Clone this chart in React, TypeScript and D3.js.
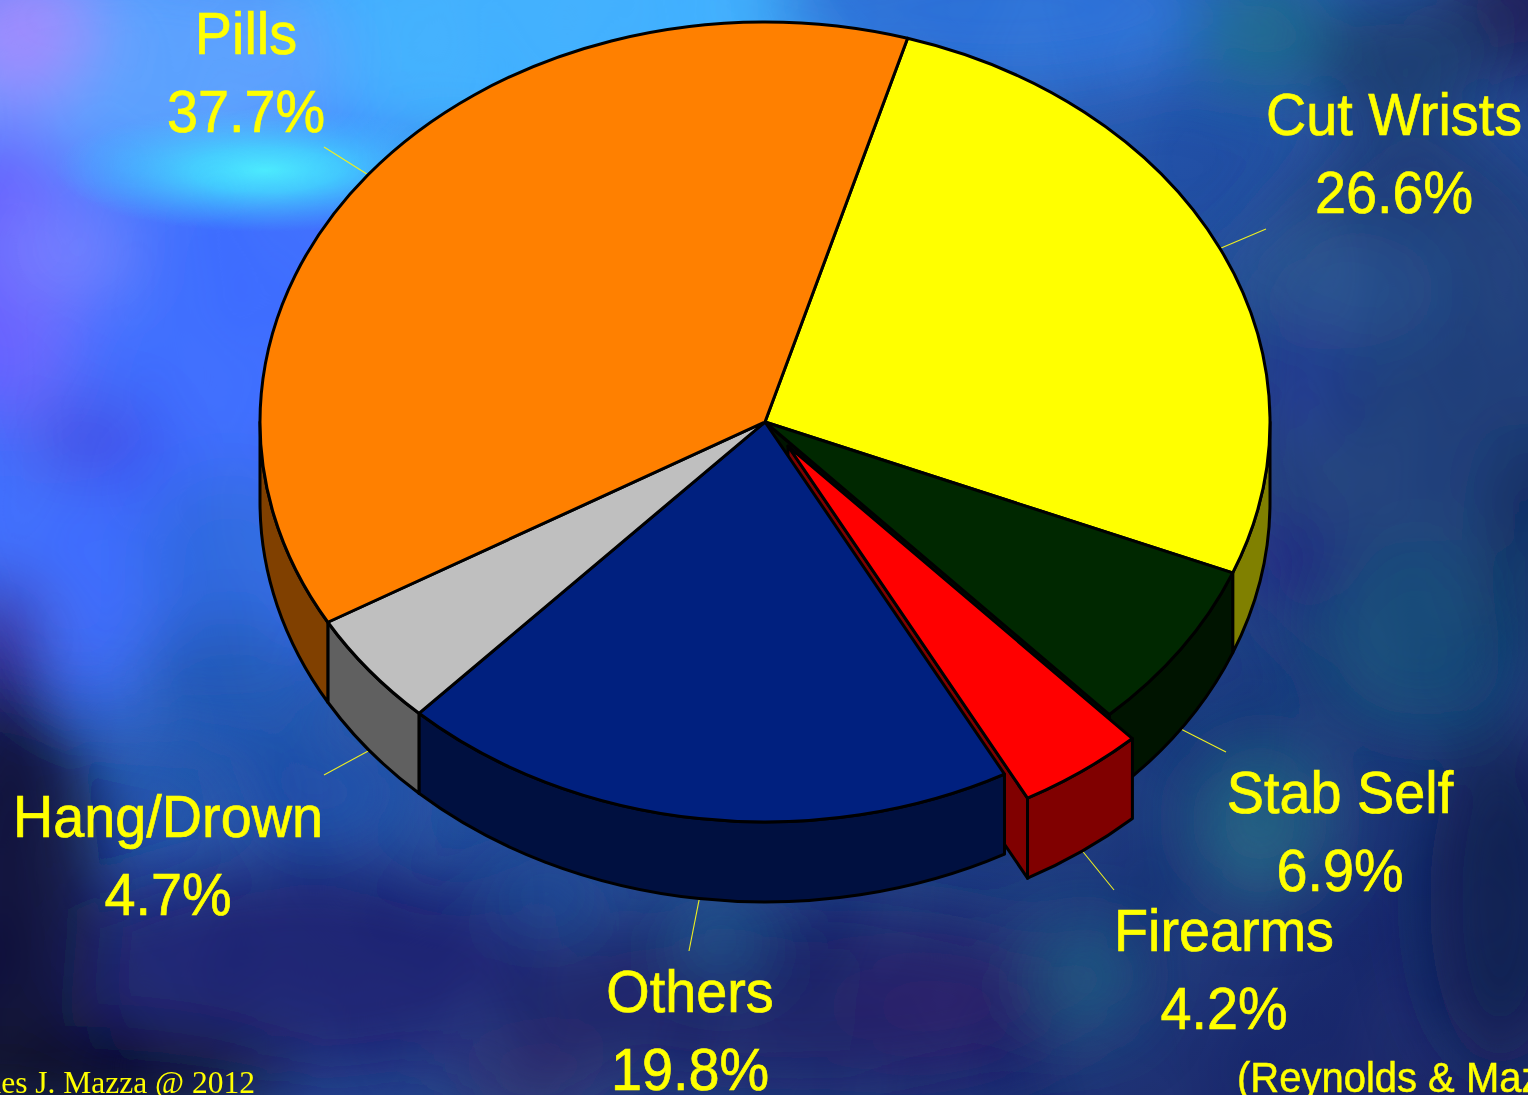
import React from "react";
import * as d3 from "d3";

// ---- data ----
const categories = ["Cut Wrists", "Stab Self", "Firearms", "Others", "Hang/Drown", "Pills"];
const sliceValues = [26.6, 6.9, 4.08, 19.88, 4.64, 37.9];
const percentLabels = ["26.6%", "6.9%", "4.2%", "19.8%", "4.7%", "37.7%"];
const topColors = ["#FFFF00", "#002800", "#FF0000", "#00207F", "#BFBFBF", "#FF8000"];
const wallColors = ["#808000", "#001400", "#800000", "#001040", "#606060", "#804000"];
const explodedCategory = "Firearms";
const footerLeft = "James J. Mazza @ 2012";
const footerRight = "(Reynolds & Mazza, 1994)";

// ---- layout ----
const W = 1528, H = 1095;
const cx = 765, cy = 422, rx = 505, ry = 400, depth = 80;
const startDeg = 16.4;
const explode = { x: 23, y: 24 };
const labelPos: Record<string, { x: number; y: number; lx: number; ly: number }> = {
  "Cut Wrists": { x: 1394, y: 135, lx: 1266, ly: 229 },
  "Stab Self": { x: 1340, y: 813, lx: 1226, ly: 752 },
  "Firearms": { x: 1224, y: 951, lx: 1114, ly: 890 },
  "Others": { x: 690, y: 1012, lx: 689, ly: 951 },
  "Hang/Drown": { x: 168, y: 837, lx: 324, ly: 775 },
  "Pills": { x: 246, y: 54, lx: 324, ly: 147 },
};
// background glow: cx, cy, rx, ry, colour, opacity
const clouds: [number, number, number, number, string, number][] = [
  [1420, 420, 190, 300, "#1a3a78", 1],
  [170, 360, 290, 360, "#3c6cff", 1],
  [560, 30, 330, 130, "#40b0ff", 1],
  [1000, 10, 230, 80, "#2a70d8", 1],
  [130, 60, 220, 110, "#5aa0ff", 1],
  [20, 30, 70, 70, "#a088ff", 1],
  [10, 270, 70, 150, "#6a60ff", 1],
  [70, 250, 60, 40, "#7a88ff", 0.9],
  [90, 440, 70, 40, "#4040e0", 0.8],
  [230, 560, 90, 90, "#2a68d8", 0.8],
  [0, 650, 50, 70, "#3a2590", 0.9],
  [230, 680, 110, 60, "#2058b0", 0.9],
  [320, 790, 90, 50, "#1e4ea8", 0.9],
  [1260, 30, 70, 60, "#1f6a90", 1],
  [1515, 10, 80, 70, "#1a1c58", 1],
  [1400, 60, 90, 60, "#18386c", 1],
  [1330, 290, 110, 60, "#264e8c", 0.9],
  [1300, 380, 45, 60, "#203090", 0.9],
  [1290, 560, 50, 40, "#201c80", 1],
  [1420, 640, 110, 100, "#1a4a78", 0.9],
  [1525, 540, 40, 120, "#10285c", 0.9],
  [1260, 820, 70, 80, "#1c6080", 0.9],
  [1500, 900, 70, 170, "#0f1c50", 1],
  [300, 970, 240, 110, "#1a2272", 1],
  [800, 1000, 300, 90, "#1c2068", 1],
  [1090, 975, 50, 55, "#1a5680", 1],
  [940, 1010, 90, 60, "#281c68", 1],
  [720, 935, 50, 50, "#1f5088", 0.9],
  [550, 890, 60, 40, "#1f4a94", 0.8],
  [530, 1080, 80, 30, "#302c68", 1],
  [10, 900, 90, 230, "#080c38", 1],
  [50, 1075, 240, 50, "#080828", 1],
];

const pieGen = d3.pie<number>().sort(null)
  .startAngle((startDeg * Math.PI) / 180)
  .endAngle((startDeg * Math.PI) / 180 + 2 * Math.PI);
const arcs = pieGen(sliceValues);

const px = (a: number, ox = 0) => cx + ox + rx * Math.sin(a);
const py = (a: number, oy = 0) => cy + oy - ry * Math.cos(a);
const largeFlag = (a0: number, a1: number) => (a1 - a0 > Math.PI ? 1 : 0);

function topPath(a0: number, a1: number, ox: number, oy: number) {
  return `M${cx + ox},${cy + oy}L${px(a0, ox)},${py(a0, oy)}A${rx},${ry} 0 ${largeFlag(a0, a1)} 1 ${px(a1, ox)},${py(a1, oy)}Z`;
}
function wallPath(a0: number, a1: number, ox: number, oy: number) {
  const lo = Math.PI / 2, hi = (3 * Math.PI) / 2;
  const s = Math.max(a0, lo), e = Math.min(a1, hi);
  if (e <= s) return "";
  return `M${px(s, ox)},${py(s, oy)}A${rx},${ry} 0 0 1 ${px(e, ox)},${py(e, oy)}L${px(e, ox)},${py(e, oy) + depth}A${rx},${ry} 0 0 0 ${px(s, ox)},${py(s, oy) + depth}Z`;
}
function cutPath(a: number, ox: number, oy: number) {
  return `M${cx + ox},${cy + oy}L${px(a, ox)},${py(a, oy)}L${px(a, ox)},${py(a, oy) + depth}L${cx + ox},${cy + oy + depth}Z`;
}

const SX = 0.93;
function Label({ x, y, text, size = 60 }: { x: number; y: number; text: string; size?: number }) {
  return (
    <text transform={`translate(${x},${y}) scale(${SX},1)`} textAnchor="middle" fontFamily="'Liberation Sans', Arial, sans-serif" fontSize={size} fill="#FFFF00" stroke="#FFFF00" strokeWidth={0.7}>
      {text}
    </text>
  );
}

export default function App() {
  const sw = 3;
  const isEx = (i: number) => categories[i] === explodedCategory;
  const exIdx = categories.indexOf(explodedCategory);
  const ex = arcs[exIdx];
  const prev = arcs[exIdx - 1];
  return (
    <svg width={W} height={H} viewBox={`0 0 ${W} ${H}`} style={{ position: "fixed", left: 0, top: 0, display: "block" }}>
      <defs>
        <filter id="blur" filterUnits="userSpaceOnUse" x={-300} y={-300} width={W + 600} height={H + 600}>
          <feGaussianBlur stdDeviation="34" />
        </filter>
        <filter id="mottle" filterUnits="userSpaceOnUse" x={0} y={0} width={W} height={H}>
          <feTurbulence type="fractalNoise" baseFrequency="0.008 0.005" numOctaves={2} seed={7} />
          <feColorMatrix type="matrix" values="0 0 0 0 0.35  0 0 0 0 0.65  0 0 0 0 0.8  1.1 0 0 0 -0.2" />
        </filter>
        <linearGradient id="base" x1="0" y1="0" x2="1" y2="1">
          <stop offset="0" stopColor="#3a80f0" />
          <stop offset="0.4" stopColor="#2456b0" />
          <stop offset="0.7" stopColor="#1a3a80" />
          <stop offset="1" stopColor="#161c60" />
        </linearGradient>
        <radialGradient id="streak">
          <stop offset="0" stopColor="#48ecff" stopOpacity={1} />
          <stop offset="0.35" stopColor="#40d8ff" stopOpacity={0.85} />
          <stop offset="1" stopColor="#40c0ff" stopOpacity={0} />
        </radialGradient>
      </defs>
      <rect width={W} height={H} fill="url(#base)" />
      <g filter="url(#blur)">
        {clouds.map(([x, y, a, b, c, o], i) => (
          <ellipse key={i} cx={x} cy={y} rx={a} ry={b} fill={c} opacity={o} />
        ))}
      </g>
      <ellipse cx={265} cy={170} rx={210} ry={62} fill="url(#streak)" />
      <rect width={W} height={H} filter="url(#mottle)" opacity={0.1} />

      {/* leader lines */}
      {arcs.map((d, i) => {
        const name = categories[i];
        const mid = (d.startAngle + d.endAngle) / 2;
        const o = isEx(i) ? explode : { x: 0, y: 0 };
        const m = ((mid % (2 * Math.PI)) + 2 * Math.PI) % (2 * Math.PI);
        const front = m > Math.PI / 2 && m < (3 * Math.PI) / 2;
        const L = labelPos[name];
        return (
          <line key={name} x1={px(mid, o.x)} y1={py(mid, o.y) + (front ? depth : 0)} x2={L.lx} y2={L.ly} stroke="#F0F020" strokeWidth={1.1} />
        );
      })}

      {/* side walls */}
      <path d={cutPath(prev.endAngle, 0, 0)} fill={wallColors[exIdx - 1]} stroke="#000" strokeWidth={sw} strokeLinejoin="round" />
      <path d={cutPath(ex.endAngle, explode.x, explode.y)} fill={wallColors[exIdx]} stroke="#000" strokeWidth={sw} strokeLinejoin="round" />
      {arcs.map((d, i) =>
        isEx(i) ? null : (
          <path key={i} d={wallPath(d.startAngle, d.endAngle, 0, 0)} fill={wallColors[i]} stroke="#000" strokeWidth={sw} strokeLinejoin="round" />
        )
      )}

      {/* top faces */}
      {arcs.map((d, i) =>
        isEx(i) ? null : (
          <path key={i} d={topPath(d.startAngle, d.endAngle, 0, 0)} fill={topColors[i]} stroke="#000" strokeWidth={sw} strokeLinejoin="round" />
        )
      )}

      {/* exploded slice */}
      <path d={wallPath(ex.startAngle, ex.endAngle, explode.x, explode.y)} fill={wallColors[exIdx]} stroke="#000" strokeWidth={sw} strokeLinejoin="round" />
      <path d={topPath(ex.startAngle, ex.endAngle, explode.x, explode.y)} fill={topColors[exIdx]} stroke="#000" strokeWidth={sw} strokeLinejoin="round" />

      {/* labels */}
      {categories.map((name, i) => (
        <g key={name}>
          <Label x={labelPos[name].x} y={labelPos[name].y} text={name} />
          <Label x={labelPos[name].x} y={labelPos[name].y + 78} text={percentLabels[i]} />
        </g>
      ))}

      <text x={255} y={1093} textAnchor="end" fontFamily="'Liberation Serif', serif" fontSize={31.5} fill="#FFFF00">{footerLeft}</text>
      <text transform={`translate(1237,1092) scale(${SX},1)`} fontFamily="'Liberation Sans', Arial, sans-serif" fontSize={43} fill="#FFFF00" stroke="#FFFF00" strokeWidth={0.5}>{footerRight}</text>
    </svg>
  );
}
